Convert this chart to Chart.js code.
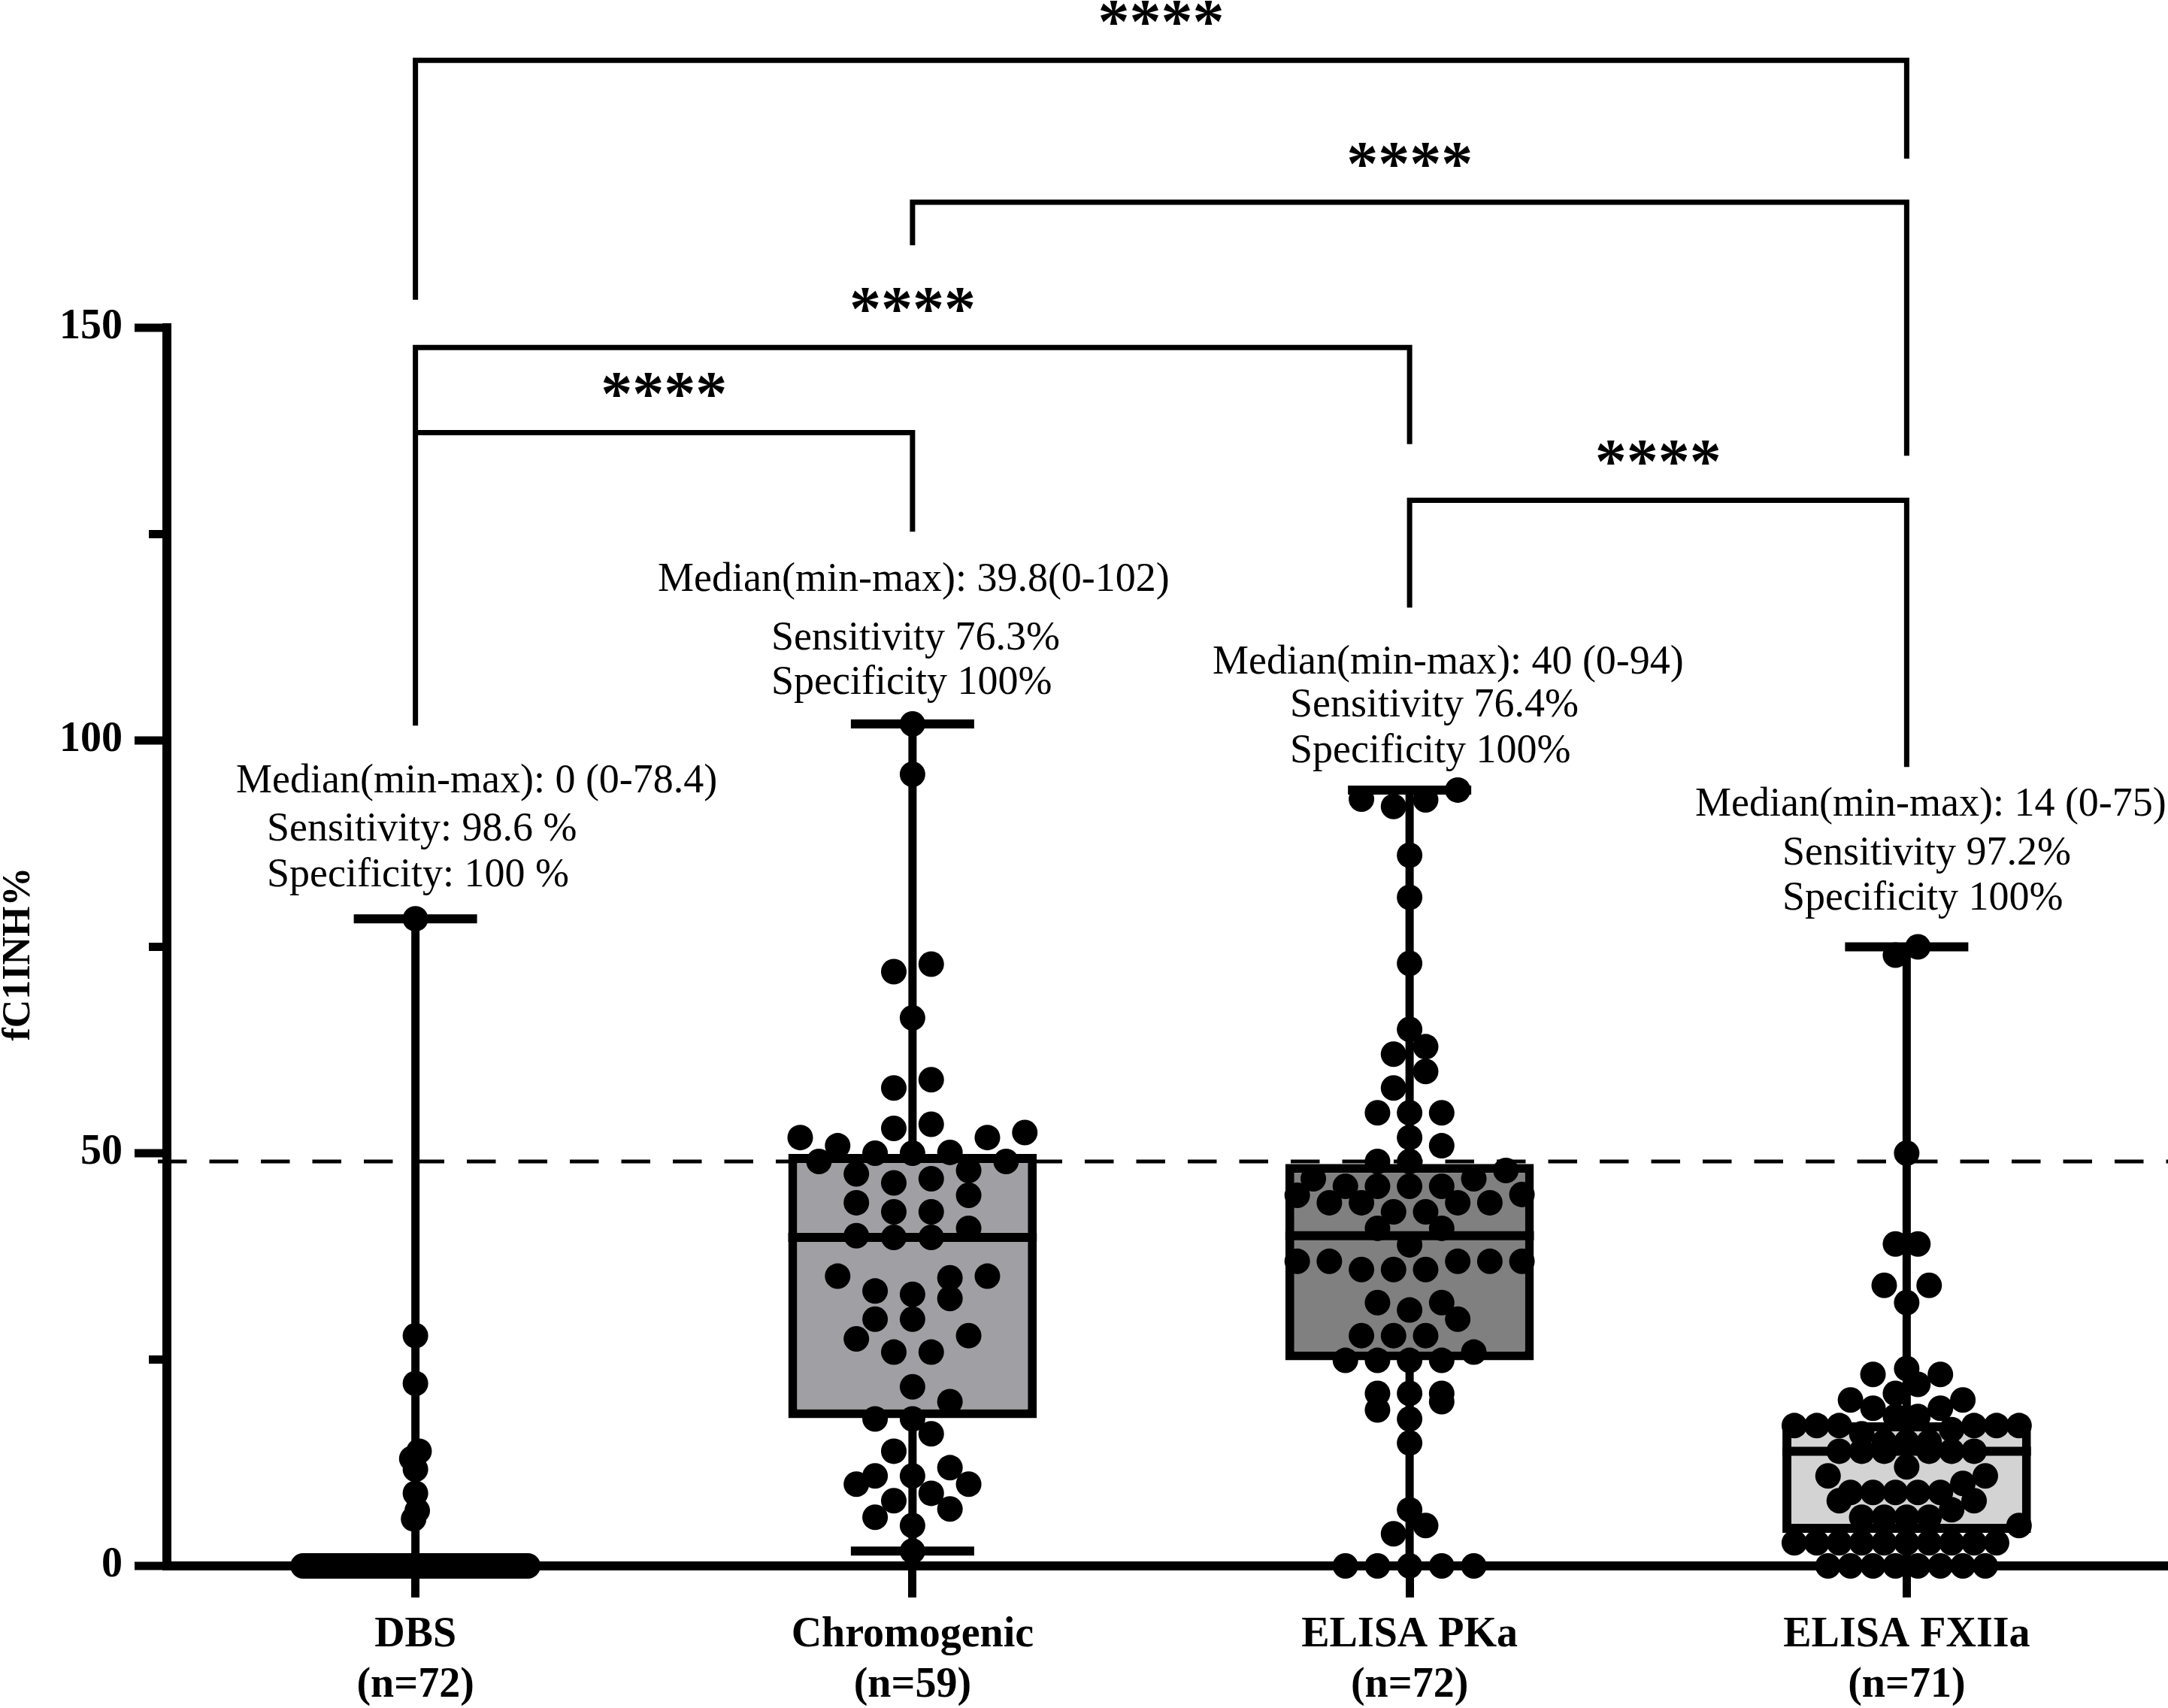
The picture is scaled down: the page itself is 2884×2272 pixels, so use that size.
<!DOCTYPE html>
<html>
<head>
<meta charset="utf-8">
<script src="https://cdn.jsdelivr.net/npm/chart.js@4.4.1/dist/chart.umd.min.js"></script>
<style>
html, body { margin: 0; padding: 0; background: #ffffff; }
#wrap { width: 2884px; height: 2272px; }
</style>
</head>
<body>
<div id="wrap"><canvas id="c" width="2884" height="2272"></canvas></div>
<script>
// ---------------- data ----------------
const categories = ['DBS', 'Chromogenic', 'ELISA PKa', 'ELISA FXIIa'];
const sampleSizes = [72, 59, 72, 71];

const dbsValues = [78.4, 27.9, 22.1, 13.9, 13.0, 11.7, 8.8, 6.7, 5.7,
  0,0,0,0,0,0,0,0,0,0, 0,0,0,0,0,0,0,0,0,0, 0,0,0,0,0,0,0,0,0,0,
  0,0,0,0,0,0,0,0,0,0, 0,0,0,0,0,0,0,0,0,0, 0,0,0,0,0,0,0,0,0,0, 0,0,0];

const chromogenicValues = [102, 95.9, 72.9, 72.0, 66.4, 58.9, 57.9,
  53.5, 53.0, 52.5, 51.9, 51.9, 50.9, 50.1, 50.0, 50.0, 49.0, 49.0,
  47.9, 47.5, 46.9, 46.4, 44.9, 44.0, 42.9, 42.9, 40.9, 40.0, 39.8, 39.8,
  35.1, 35.1, 34.9, 33.3, 32.9, 32.4, 29.9, 29.9, 27.9, 27.5, 25.9, 25.9,
  21.7, 19.9, 17.8, 17.8, 16.0, 13.9, 11.9, 10.9, 10.9, 9.9, 9.9, 8.8,
  7.9, 6.9, 5.9, 4.9, 1.8];

const pkaValues = [94.0, 92.9, 92.8, 92.0, 86.1, 81.0, 73.0, 65.0, 62.9, 62.0,
  59.9, 57.9, 54.9, 54.9, 54.9, 51.9, 50.9, 49.0, 49.0, 47.9, 46.9, 46.9,
  46.0, 46.0, 46.0, 46.0, 45.0, 44.9, 44.0, 44.0, 44.0, 44.0, 42.9, 42.9,
  40.9, 40.9, 38.9, 36.9, 36.9, 36.9, 36.9, 36.9, 35.9, 35.9, 35.9,
  31.9, 31.9, 31.0, 29.9, 27.9, 27.9, 27.9, 25.9, 24.9, 24.9, 24.9, 24.9,
  20.9, 20.9, 20.9, 19.9, 18.9, 17.8, 14.9, 6.8, 4.9, 3.9, 0, 0, 0, 0, 0];

const fxiiaValues = [75, 74, 50, 39, 39, 34, 34, 31.9, 23.9, 23.2, 23.2, 22.0,
  20.9, 20.1, 20.1, 19.1, 19.1, 18.1, 18.1, 17.0, 17.0, 17.0, 17.0, 17.0, 17.0,
  16.5, 16.0, 15.0, 15.0, 15.0, 13.9, 13.9, 13.9, 13.9, 13.9, 13.9, 12.0,
  10.9, 10.9, 10.0, 8.9, 8.9, 8.9, 8.9, 8.9, 7.9, 7.9, 6.8, 5.9, 5.9, 5.9, 5.9,
  4.9, 2.8, 2.8, 2.8, 2.8, 2.8, 2.8, 2.8, 2.8, 2.8, 2.8, 0, 0, 0, 0, 0, 0, 0, 0];

const boxMin    = [0,    1.8,  0,    0];
const boxQ1     = [0,    17.9, 24.9, 4.0];
const boxMedian = [0,    39.8, 40.0, 13.9];
const boxQ3     = [0,    49.9, 48.7, 17.4];
const boxMax    = [78.4, 102,  94,   75];

const cutoffValue = 49;
const yLabelValues = [0, 50, 100, 150];

const statTexts = [
  ['Median(min-max): 0 (0-78.4)', 'Sensitivity: 98.6 %', 'Specificity: 100 %'],
  ['Median(min-max): 39.8(0-102)', 'Sensitivity 76.3%', 'Specificity 100%'],
  ['Median(min-max): 40 (0-94)', 'Sensitivity 76.4%', 'Specificity 100%'],
  ['Median(min-max): 14 (0-75)', 'Sensitivity 97.2%', 'Specificity 100%']
];

const comparisonFrom   = [0, 1, 0, 0, 2];
const comparisonTo     = [3, 3, 2, 1, 3];
const comparisonLabels = ['****', '****', '****', '****', '****'];

// ---------------- layout / style ----------------
const groups = [dbsValues, chromogenicValues, pkaValues, fxiiaValues];
const boxColors = ['#ffffff', '#a0a0a4', '#808080', '#d3d3d3'];
const SERIF = '"Liberation Serif", "Times New Roman", serif';

// bracket geometry in axis value units: [bar level, left leg end, right leg end]
const bracketLevels = [
  [182.4, 153.4, 170.5],
  [165.2, 160.0, 134.5],
  [147.6, 101.8, 135.9],
  [137.3, 137.3, 125.3],
  [129.1, 116.1, 96.8]
];
// stat text placement (pixels): left x per line, centre y per line
const statLayout = [
  { x: [314, 355, 355],    y: [1040, 1104, 1165] },
  { x: [875, 1026, 1026],  y: [772, 850, 909] },
  { x: [1613, 1716, 1716], y: [882, 939, 1000] },
  { x: [2255, 2371, 2371], y: [1071, 1136, 1196] }
];

// beeswarm layout: rows of near-equal values, spread horizontally
function swarm(values, center) {
  const binHeight = 2.7;      // value units (~ dot size)
  const spread = 0.452;       // category units max total row width
  const maxStep = 0.0753;     // category units between neighbours
  const sorted = values.slice().sort((a, b) => a - b);
  const bins = [];
  let cur = null;
  for (const v of sorted) {
    if (!cur || v - cur.start >= binHeight) { cur = { start: v, vals: [] }; bins.push(cur); }
    cur.vals.push(v);
  }
  const maxN = Math.max(...bins.map(b => b.vals.length));
  const step = maxN > 1 ? Math.min(maxStep, spread / (maxN - 1)) : 0;
  const pts = [];
  for (const b of bins) {
    const n = b.vals.length;
    const slots = [];
    for (let j = 0; j < n; j++) slots.push(j - (n - 1) / 2);
    slots.sort((a, c) => Math.abs(a) - Math.abs(c) || a - c);
    b.vals.forEach((v, k) => pts.push({ x: center + slots[k] * step, y: v }));
  }
  return pts;
}

// ---------------- plugins ----------------
const boxPlotPlugin = {
  id: 'boxParts',
  beforeDatasetsDraw(chart) {
    const { ctx, chartArea, scales: { y } } = chart;
    const yy = y.getPixelForValue(cutoffValue);
    ctx.save();
    ctx.strokeStyle = '#000';
    ctx.lineWidth = 5;
    ctx.setLineDash([38.5, 30]);
    ctx.beginPath();
    ctx.moveTo(210, yy);
    ctx.lineTo(chart.width, yy);
    ctx.stroke();
    ctx.setLineDash([]);
    // x axis line continues to the right edge
    ctx.lineWidth = 12;
    ctx.beginPath();
    ctx.moveTo(chartArea.right - 2, chartArea.bottom);
    ctx.lineTo(chart.width, chartArea.bottom);
    ctx.stroke();
    ctx.restore();
  },
  afterDatasetDraw(chart, args) {
    if (args.index !== 0) return;
    const { ctx, scales: { x, y } } = chart;
    const meta = chart.getDatasetMeta(0);
    const catW = x.getPixelForValue(1) - x.getPixelForValue(0);
    const capHalf = catW * 0.124;
    ctx.save();
    ctx.strokeStyle = '#000';
    ctx.lineCap = 'butt';
    categories.forEach((_, i) => {
      const cx = x.getPixelForValue(i);
      const bar = meta.data[i];
      const half = bar.width / 2;
      const pMin = y.getPixelForValue(boxMin[i]);
      const pMax = y.getPixelForValue(boxMax[i]);
      const pQ1 = y.getPixelForValue(boxQ1[i]);
      const pQ3 = y.getPixelForValue(boxQ3[i]);
      const pMed = y.getPixelForValue(boxMedian[i]);
      ctx.lineWidth = 11;
      ctx.beginPath();
      ctx.moveTo(cx, pMax); ctx.lineTo(cx, pQ3);
      ctx.moveTo(cx, pQ1); ctx.lineTo(cx, pMin);
      ctx.stroke();
      ctx.lineWidth = 12;
      ctx.beginPath();
      ctx.moveTo(cx - capHalf, pMax); ctx.lineTo(cx + capHalf, pMax);
      ctx.moveTo(cx - capHalf, pMin); ctx.lineTo(cx + capHalf, pMin);
      ctx.moveTo(bar.x - half, pMed); ctx.lineTo(bar.x + half, pMed);
      ctx.stroke();
    });
    ctx.restore();
  },
  afterDraw(chart) {
    const { ctx, chartArea, scales: { x, y } } = chart;
    ctx.save();
    // y tick marks (major + minor)
    ctx.strokeStyle = '#000';
    ctx.lineWidth = 11;
    y.ticks.forEach(t => {
      const py = y.getPixelForValue(t.value);
      const len = yLabelValues.includes(t.value) ? 43 : 24;
      ctx.beginPath();
      ctx.moveTo(chartArea.left - len, py);
      ctx.lineTo(chartArea.left, py);
      ctx.stroke();
    });
    // y axis title
    ctx.save();
    ctx.translate(26, 1269);
    ctx.rotate(-Math.PI / 2);
    ctx.fillStyle = '#000';
    ctx.font = 'bold 52px ' + SERIF;
    ctx.textAlign = 'center';
    ctx.textBaseline = 'middle';
    ctx.fillText('fC1INH%', 0, 0);
    ctx.restore();
    // significance brackets
    ctx.lineWidth = 7;
    ctx.lineJoin = 'miter';
    comparisonFrom.forEach((from, k) => {
      const to = comparisonTo[k];
      const [lvl, lEnd, rEnd] = bracketLevels[k];
      const xl = x.getPixelForValue(from);
      const xr = x.getPixelForValue(to);
      const py = y.getPixelForValue(lvl);
      ctx.beginPath();
      ctx.moveTo(xl, y.getPixelForValue(lEnd));
      ctx.lineTo(xl, py);
      ctx.lineTo(xr, py);
      ctx.lineTo(xr, y.getPixelForValue(rEnd));
      ctx.stroke();
      ctx.fillStyle = '#000';
      ctx.font = 'bold 84px ' + SERIF;
      ctx.textAlign = 'center';
      ctx.textBaseline = 'alphabetic';
      ctx.fillText(comparisonLabels[k], (xl + xr) / 2, py - 23);
    });
    // stat texts
    ctx.fillStyle = '#000';
    ctx.font = '54px ' + SERIF;
    ctx.textAlign = 'left';
    ctx.textBaseline = 'middle';
    statTexts.forEach((lines, i) => {
      lines.forEach((line, j) => {
        ctx.fillText(line, statLayout[i].x[j], statLayout[i].y[j]);
      });
    });
    ctx.restore();
  }
};

// ---------------- chart ----------------
const ctx = document.getElementById('c').getContext('2d');
new Chart(ctx, {
  type: 'bar',
  data: {
    labels: categories.map((c, i) => [c, '(n=' + sampleSizes[i] + ')']),
    datasets: [
      {
        type: 'bar',
        label: 'box',
        data: categories.map((_, i) => [boxQ1[i], boxQ3[i]]),
        backgroundColor: boxColors,
        borderColor: '#000',
        borderWidth: 12,
        borderSkipped: false,
        grouped: false,
        barPercentage: 0.5,
        categoryPercentage: 1,
        xAxisID: 'x',
        yAxisID: 'y',
        order: 2
      },
      ...groups.map((vals, i) => ({
        type: 'scatter',
        label: categories[i],
        data: swarm(vals, i),
        xAxisID: 'xs',
        yAxisID: 'y',
        pointRadius: 17,
        pointHoverRadius: 17,
        backgroundColor: '#000',
        borderWidth: 0,
        clip: false,
        order: 1
      }))
    ]
  },
  options: {
    responsive: false,
    animation: false,
    devicePixelRatio: 1,
    layout: { padding: { top: 436, right: 7, left: 0, bottom: 0 } },
    plugins: { legend: { display: false }, tooltip: { enabled: false } },
    scales: {
      x: {
        type: 'category',
        offset: true,
        grid: { display: true, drawOnChartArea: false, drawTicks: true, tickLength: 42, lineWidth: 11, color: '#000', offset: false },
        border: { display: true, width: 12, color: '#000' },
        ticks: { color: '#000', font: { family: SERIF, size: 56, weight: 'bold' }, padding: 17, maxRotation: 0, autoSkip: false },
        afterFit(scale) { scale.height = 189; }
      },
      xs: {
        type: 'linear',
        display: false,
        offset: false,
        grid: { offset: false },
        min: -0.5,
        max: 3.5
      },
      y: {
        type: 'linear',
        min: 0,
        max: 150,
        grid: { display: false },
        border: { display: true, width: 12, color: '#000' },
        ticks: {
          stepSize: 25,
          color: '#000',
          padding: 51,
          font: { family: SERIF, size: 56, weight: 'bold' },
          callback: (v) => (yLabelValues.includes(v) ? String(v) : '')
        },
        afterFit(scale) { scale.width = 222; }
      }
    }
  },
  plugins: [boxPlotPlugin]
});
</script>
</body>
</html>
